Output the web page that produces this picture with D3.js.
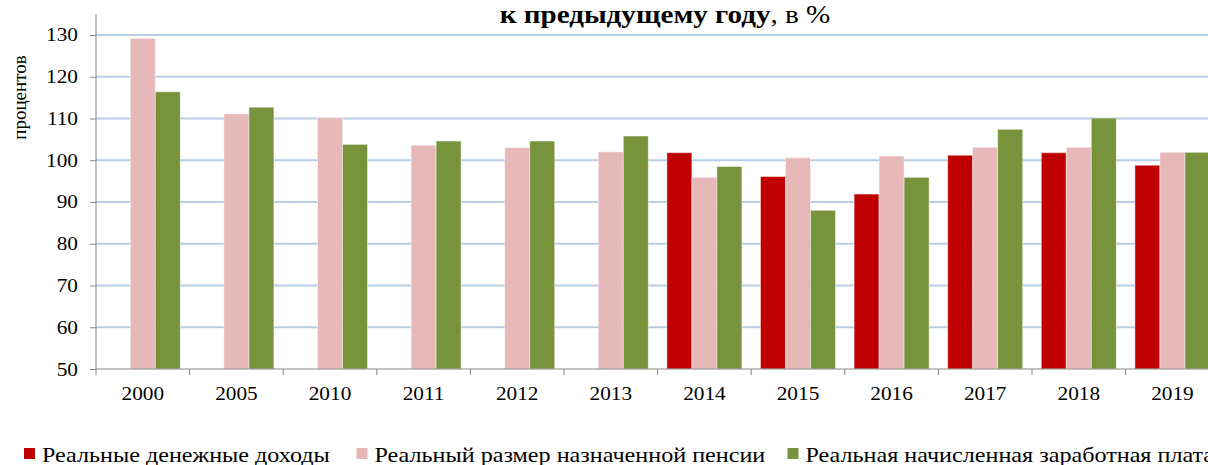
<!DOCTYPE html>
<html>
<head>
<meta charset="utf-8">
<script src="https://cdn.jsdelivr.net/npm/d3@7"></script>
<style>
  html, body { margin: 0; padding: 0; background: #fff; overflow: hidden; }
  svg { display: block; }
  svg text { font-family: "Liberation Serif", "Times New Roman", serif; fill: #000; }
</style>
</head>
<body>
<svg id="chart" width="1208" height="465"></svg>
<script>
const years = ["2000","2005","2010","2011","2012","2013","2014","2015","2016","2017","2018","2019"];
const seriesNames = [
  "Реальные денежные доходы",
  "Реальный размер назначенной пенсии",
  "Реальная начисленная заработная плата"
];
const income  = [null, null, null, null, null, null, 101.8, 96.1, 91.9, 101.2, 101.8, 98.8];
const pension = [129.2, 111.1, 110.2, 103.6, 103.0, 102.0, 95.9, 100.6, 101.0, 103.1, 103.1, 101.9];
const wage    = [116.4, 112.7, 103.8, 104.6, 104.6, 105.8, 98.5, 88.0, 95.9, 107.4, 110.1, 101.9];
const yTicks  = [50, 60, 70, 80, 90, 100, 110, 120, 130];
const colors  = ["#c00000", "#e6b9b8", "#77933c"];
const titleBold = "к предыдущему году";
const titleRest = ", в %";
const yLabel = "процентов";

const SX = 1.12;  // horizontal stretch of the original picture's text
const SXL = 1.15; // legend stretch
const svg = d3.select("#chart");
const plotLeft = 96, plotBottom = 369, plotTop = 14.1;
const band = 93.6;
const x = d3.scaleBand().domain(years).range([plotLeft, plotLeft + band * years.length]).paddingInner(0).paddingOuter(0);
const xs = d3.scaleBand().domain([0,1,2]).range([9.3, band - 9.3]).padding(0);
const y = d3.scaleLinear().domain([50, 135]).range([plotBottom, plotTop]);

function place(sel, px, py, s) {
  return sel.attr("transform", `translate(${px},${py}) scale(${s || SX},1)`);
}

// gridlines
svg.append("g").selectAll("line").data(yTicks.filter(t => t > 50)).join("line")
  .attr("x1", plotLeft).attr("x2", 1208)
  .attr("y1", d => y(d)).attr("y2", d => y(d))
  .attr("stroke", "#b9cde5").attr("stroke-width", 2);

// bars
const series = [income, pension, wage];
const rows = [];
series.forEach((arr, si) => arr.forEach((v, i) => { if (v != null) rows.push({si, year: years[i], v}); }));
svg.append("g").selectAll("rect").data(rows).join("rect")
  .attr("x", d => x(d.year) + xs(d.si))
  .attr("width", xs.bandwidth())
  .attr("y", d => y(d.v))
  .attr("height", d => plotBottom - y(d.v))
  .attr("fill", d => colors[d.si])
  .attr("stroke", "rgba(255,255,255,0.45)")
  .attr("stroke-width", 1);

// y axis
const yAxis = d3.axisLeft(y).tickValues(yTicks).tickSize(6).tickFormat("");
const gy = svg.append("g").attr("transform", `translate(${plotLeft},0)`).call(yAxis);
gy.select(".domain").attr("stroke", "#868686").attr("d", `M-0,${plotTop}V${plotBottom}`);
gy.selectAll(".tick line").attr("stroke", "#868686");
gy.selectAll(".tick text").remove();
svg.append("g").selectAll("text").data(yTicks).join("text")
  .each(function(d) { place(d3.select(this), 78, y(d) + 6.5); })
  .attr("text-anchor", "end").style("font-size", "19px").text(d => d);

// x axis
const gx = svg.append("g").attr("transform", `translate(0,${plotBottom})`);
gx.append("line").attr("x1", plotLeft).attr("x2", 1208).attr("y1", 0).attr("y2", 0).attr("stroke", "#868686");
const bounds = years.map(yy => x(yy)).concat([x(years[years.length-1]) + band]);
gx.selectAll("line.tk").data(bounds).join("line").attr("class", "tk")
  .attr("x1", d => d).attr("x2", d => d).attr("y1", 0).attr("y2", 6).attr("stroke", "#868686");
gx.selectAll("text").data(years).join("text")
  .each(function(d) { place(d3.select(this), x(d) + band / 2, 31); })
  .attr("text-anchor", "middle").style("font-size", "19px").text(d => d);

// title
const t = place(svg.append("text"), 665, 22.5).attr("text-anchor", "middle").style("font-size", "26px");
t.append("tspan").style("font-weight", "bold").text(titleBold);
t.append("tspan").text(titleRest);

// y label
svg.append("text").attr("transform", "translate(25.5,97.5) rotate(-90)").attr("text-anchor", "middle")
  .style("font-size", "19px").text(yLabel);

// legend
const legendX = [24, 356.5, 787.5];
const lg = svg.append("g");
seriesNames.forEach((n, i) => {
  lg.append("rect").attr("x", legendX[i]).attr("y", 448).attr("width", 11).attr("height", 11).attr("fill", colors[i]);
  place(lg.append("text"), legendX[i] + 18, 461.5, SXL).style("font-size", "21px").text(n);
});
</script>
</body>
</html>
